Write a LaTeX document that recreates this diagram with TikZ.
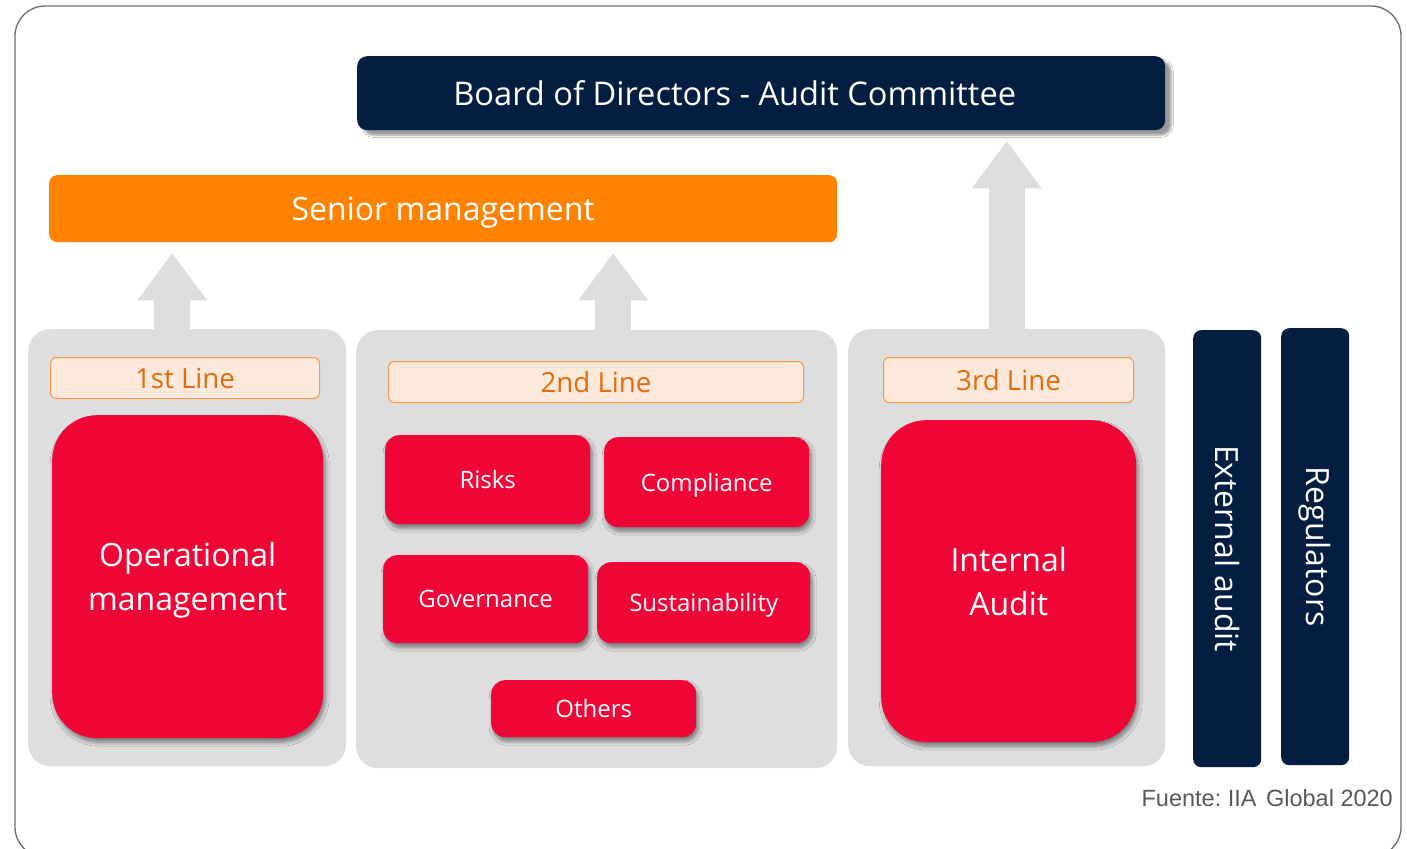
\documentclass[tikz,border=0pt]{standalone}
\usepackage{fontspec}
\setmainfont{Open Sans}
\newfontfamily\arialfont{Liberation Sans}
\usetikzlibrary{arrows.meta,shadows.blur}
\definecolor{navy}{RGB}{4,30,66}
\definecolor{sorange}{RGB}{255,130,0}
\definecolor{cred}{RGB}{240,5,55}
\definecolor{panel}{RGB}{222,222,222}
\definecolor{lblfill}{RGB}{252,233,219}
\definecolor{lbldraw}{RGB}{247,150,70}
\definecolor{lbltext}{RGB}{228,108,10}
\definecolor{framegray}{RGB}{110,110,110}
\definecolor{srcgray}{RGB}{89,89,89}
\tikzset{
  box/.style={anchor=north west, inner sep=0pt, align=center, text=white},
  flat/.style={text depth=0pt},
  panelbox/.style={box, fill=panel, rounded corners=22pt},
  lbl/.style={box, flat, fill=lblfill, draw=lbldraw, line width=1pt, rounded corners=6pt,
    text=lbltext, font=\fontsize{27.7}{33}\selectfont},
  redshadow/.style={blur shadow={shadow xshift=2pt, shadow yshift=-4pt,
    shadow blur steps=6, shadow opacity=45, shadow blur radius=4pt}},
  redbig/.style={box, flat, fill=cred, rounded corners=45pt, redshadow,
    font=\fontsize{32}{44}\selectfont},
  redsmall/.style={box, flat, fill=cred, rounded corners=14pt, redshadow,
    font=\fontsize{24}{29}\selectfont},
  navybar/.style={box, fill=navy, rounded corners=8pt, font=\fontsize{32}{38}\selectfont},
  bigarrow/.style={draw=panel, line width=36pt,
    -{Triangle[width=70pt,length=47pt,line width=0pt]}, shorten >=11pt}
}
\begin{document}
\frenchspacing
\begin{tikzpicture}[x=1pt,y=-1pt]
\clip (0,0) rectangle (1407,848);
\fill[white] (0,0) rectangle (1407,848);
\draw[framegray, line width=1.3pt, rounded corners=30pt] (15,6) rectangle (1401,857);

% top boxes
\node[box, flat, fill=navy, rounded corners=10pt, minimum width=808pt, minimum height=74pt,
  blur shadow={shadow xshift=6pt, shadow yshift=-5pt, shadow blur steps=6, shadow opacity=40},
  font=\fontsize{32.6}{38}\selectfont] (board) at (357,56) {\hspace*{-53pt}Board of Directors - Audit Committee};
\node[box, flat, fill=sorange, rounded corners=8pt, minimum width=788pt, minimum height=67pt,
  font=\fontsize{32}{38}\selectfont] (senior) at (49,175) {Senior management};

% panels
\node[panelbox, minimum width=318pt, minimum height=437pt] (p1) at (28,329) {};
\node[panelbox, minimum width=481pt, minimum height=438pt] (p2) at (356,330) {};
\node[panelbox, minimum width=317pt, minimum height=437pt] (p3) at (848,329) {};

% arrows
\draw[bigarrow] ([xshift=-15pt]p1.north) -- ([xshift=-15pt]p1.north |- senior.south);
\draw[bigarrow] ([xshift=16.5pt]p2.north) -- ([xshift=16.5pt]p2.north |- senior.south);
\draw[bigarrow] (p3.north) -- (p3.north |- board.south);

% line labels
\node[lbl, minimum width=269pt, minimum height=41pt] (l1) at (50,357) {1st Line};
\node[lbl, minimum width=415pt, minimum height=41pt] (l2) at (388,361) {2nd Line};
\node[lbl, minimum width=250pt, minimum height=45pt] (l3) at (883,357) {3rd Line};

% red boxes
\node[redbig, minimum width=271pt, minimum height=323pt] (op) at (52,415) {Operational\\management};
\node[redbig, minimum width=255pt, minimum height=322pt] (ia) at (881,420) {Internal\\Audit};
\node[redsmall, minimum width=205pt, minimum height=89pt] (risks) at (385,435) {Risks};
\node[redsmall, minimum width=205pt, minimum height=90pt] (comp) at (604,437) {Compliance};
\node[redsmall, minimum width=205pt, minimum height=88pt] (gov) at (383,555) {Governance};
\node[redsmall, minimum width=213pt, minimum height=81pt] (sust) at (597,562) {Sustainability};
\node[redsmall, minimum width=205pt, minimum height=57pt] (others) at (491,680) {Others};

% external bars
\node[navybar, minimum width=68pt, minimum height=437pt] (ext) at (1193,330) {\rotatebox{-90}{External audit}};
\node[navybar, minimum width=68pt, minimum height=437pt] (reg) at (1281,328) {\rotatebox{-90}{Regulators}};

% source
\node[anchor=base east, inner sep=0pt, text=srcgray, font=\arialfont\fontsize{23.5}{28}\selectfont]
  (src) at (1393,806) {Fuente: IIA\hspace{3pt} Global 2020};
\end{tikzpicture}
\end{document}
